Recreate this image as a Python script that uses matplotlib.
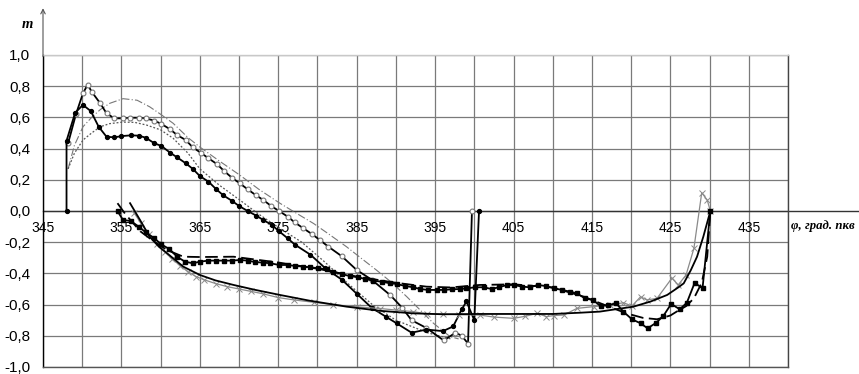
import numpy as np
import matplotlib.pyplot as plt

# -----------------------------
# Data
# -----------------------------

x_labels = [345, 355, 365, 375, 385, 395, 405, 415, 425, 435]
y_ticks = [-1.0, -0.8, -0.6, -0.4, -0.2, 0.0, 0.2, 0.4, 0.6, 0.8, 1.0]

# upper group: solid with filled dots
dots_x = [348.0, 348.0, 349.1, 350.1, 351.1, 352.1, 353.1, 354.1, 355.0, 356.2, 357.2, 358.1,
          359.2, 360.1, 361.2, 362.1, 363.2, 364.1, 365.0, 366.1, 367.1, 368.0, 369.1, 370.0,
          371.1, 372.2, 373.1, 374.2, 375.1, 376.2, 377.1, 379.1, 381.0, 383.1, 385.0, 386.9,
          388.8, 390.1, 392.0, 393.9, 396.0, 397.3, 398.4, 399.0, 400.0, 400.6]
dots_y = [0.0, 0.45, 0.63, 0.68, 0.64, 0.54, 0.476, 0.472, 0.48, 0.485, 0.483, 0.47,
          0.434, 0.417, 0.374, 0.344, 0.306, 0.27, 0.224, 0.188, 0.139, 0.10, 0.065, 0.032,
          0.0, -0.03, -0.058, -0.09, -0.13, -0.175, -0.215, -0.28, -0.367, -0.44, -0.53, -0.62,
          -0.68, -0.72, -0.78, -0.76, -0.77, -0.74, -0.63, -0.58, -0.70, 0.0]

# upper group: solid with open circles
circ_x = [348.2, 349.2, 350.1, 350.7, 351.2, 352.3, 353.1, 354.1, 355.2, 356.1, 357.2, 358.1,
          359.2, 360.1, 361.2, 362.1, 363.2, 364.1, 365.1, 366.1, 367.2, 368.1, 369.1, 370.1,
          371.1, 372.1, 373.1, 374.1, 375.1, 376.2, 377.1, 378.2, 379.3, 380.3, 381.4, 383.1,
          385.0, 386.9, 389.3, 390.8, 392.0, 393.9, 396.1, 397.6, 398.4, 399.2, 399.7]
circ_y = [0.434, 0.62, 0.755, 0.81, 0.765, 0.69, 0.626, 0.594, 0.594, 0.598, 0.598, 0.594,
          0.579, 0.558, 0.524, 0.487, 0.455, 0.408, 0.374, 0.338, 0.30, 0.256, 0.213, 0.177,
          0.139, 0.103, 0.07, 0.032, 0.0, -0.036, -0.073, -0.111, -0.148, -0.186, -0.229, -0.29,
          -0.378, -0.44, -0.54, -0.62, -0.70, -0.75, -0.83, -0.78, -0.80, -0.85, 0.0]

# upper group: thin dash-dot
dashdot_x = [348.2, 349.0, 350.1, 351.2, 352.3, 353.5, 355.2, 357.0, 358.6, 360.0, 361.6, 363.5,
             365.0, 367.5, 370.1, 372.5, 375.2, 377.5, 379.5, 381.5, 383.7, 385.5, 387.5, 389.5,
             391.4, 393.0, 394.8, 396.9, 398.0]
dashdot_y = [0.27, 0.42, 0.54, 0.60, 0.65, 0.69, 0.72, 0.71, 0.668, 0.62, 0.562, 0.47,
             0.41, 0.32, 0.23, 0.14, 0.05, -0.02, -0.08, -0.15, -0.229, -0.30, -0.378, -0.46,
             -0.55, -0.63, -0.72, -0.805, -0.82]

# upper group: thin dotted
dotted_x = [348.2, 349.0, 350.1, 351.2, 352.3, 353.5, 355.2, 356.7, 358.2, 360.0, 361.6, 363.5,
            365.0, 367.5, 370.1, 372.5, 375.2, 378.0, 381.0, 384.0, 387.0, 390.0, 394.0, 397.0]
dotted_y = [0.27, 0.37, 0.455, 0.50, 0.54, 0.56, 0.57, 0.568, 0.551, 0.52, 0.466, 0.37,
            0.27, 0.165, 0.07, -0.02, -0.111, -0.20, -0.33, -0.47, -0.60, -0.70, -0.78, -0.82]

# lower group: solid with filled squares
sq_x = [354.5, 355.2, 356.2, 357.2, 358.1, 359.1, 360.1, 361.1, 362.1, 363.1, 364.1, 365.0,
        366.1, 367.1, 368.1, 369.1, 370.1, 371.1, 372.0, 373.1, 374.0, 375.1, 376.2, 377.1,
        378.1, 379.1, 380.1, 381.2, 382.0, 383.1, 384.1, 385.2, 386.1, 387.1, 388.2, 389.3,
        390.1, 391.2, 392.2, 393.1, 394.1, 395.2, 396.1, 397.1, 398.2, 399.0, 400.1, 401.2,
        402.2, 403.1, 404.2, 405.0, 406.1, 407.1, 408.1, 409.1, 410.2, 411.2, 412.2, 413.1,
        414.1, 415.1, 416.1, 417.1, 418.1, 419.0, 420.1, 421.2, 422.1, 423.2, 424.1, 425.1,
        426.2, 427.1, 428.1, 429.1, 430.1]
sq_y = [0.0, -0.058, -0.064, -0.10, -0.137, -0.171, -0.214, -0.244, -0.293, -0.325, -0.335, -0.325,
        -0.318, -0.318, -0.318, -0.318, -0.314, -0.318, -0.327, -0.331, -0.335, -0.346, -0.346, -0.352,
        -0.356, -0.361, -0.367, -0.374, -0.389, -0.404, -0.417, -0.425, -0.436, -0.447, -0.453, -0.464,
        -0.468, -0.481, -0.489, -0.50, -0.506, -0.506, -0.506, -0.502, -0.50, -0.496, -0.489, -0.489,
        -0.50, -0.489, -0.474, -0.474, -0.485, -0.489, -0.474, -0.481, -0.496, -0.506, -0.517, -0.528,
        -0.56, -0.57, -0.609, -0.603, -0.592, -0.645, -0.694, -0.72, -0.752, -0.716, -0.673, -0.596,
        -0.63, -0.588, -0.46, -0.496, 0.0]

# lower group: black dashed
dash_x = [354.5, 355.5, 357.4, 359.0, 360.8, 362.9, 365.0, 369.3, 375.0, 380.0, 385.0, 390.0,
          393.9, 397.0, 400.7, 405.0, 410.0, 414.0, 417.0, 419.4, 421.5, 423.3, 425.0, 425.8,
          427.0, 428.0, 429.0, 429.7, 430.1]
dash_y = [0.05, -0.02, -0.13, -0.19, -0.25, -0.293, -0.295, -0.293, -0.33, -0.37, -0.42, -0.46,
          -0.485, -0.49, -0.474, -0.47, -0.49, -0.55, -0.61, -0.656, -0.685, -0.694, -0.67, -0.645,
          -0.61, -0.56, -0.46, -0.293, 0.0]

# lower group: smooth black solid
smooth_x = [356.1, 357.4, 358.6, 359.8, 360.8, 362.0, 362.9, 365.0, 367.0, 369.3, 372.0, 375.2,
            379.0, 383.7, 388.0, 392.2, 396.0, 400.7, 405.0, 410.0, 413.5, 416.0, 418.0, 420.3,
            422.5, 424.6, 426.0, 426.7, 427.6, 428.4, 429.2, 430.1]
smooth_y = [0.05, -0.06, -0.165, -0.23, -0.27, -0.32, -0.357, -0.41, -0.445, -0.474, -0.505, -0.538,
            -0.575, -0.613, -0.64, -0.656, -0.662, -0.66, -0.66, -0.66, -0.652, -0.645, -0.63, -0.613,
            -0.58, -0.538, -0.49, -0.464, -0.38, -0.293, -0.165, 0.0]

# lower group: gray with x markers
cross_x = [356.6, 357.5, 358.5, 359.5, 360.5, 361.5, 362.5, 363.5, 364.5, 365.5, 367.0, 368.5,
           370.0, 371.5, 373.0, 375.0, 377.0, 379.5, 382.0, 385.0, 388.0, 390.0, 392.2, 394.0,
           396.0, 398.0, 400.7, 402.5, 405.0, 406.5, 408.0, 409.2, 410.2, 411.4, 413.1, 415.2,
           417.3, 419.0, 420.1, 421.2, 422.0, 423.3, 425.2, 426.0, 427.0, 428.0, 429.0, 429.7, 430.1]
cross_y = [-0.01, -0.08, -0.15, -0.21, -0.26, -0.31, -0.35, -0.39, -0.42, -0.44, -0.465, -0.485,
           -0.50, -0.515, -0.53, -0.555, -0.57, -0.585, -0.60, -0.615, -0.625, -0.635, -0.645, -0.66,
           -0.66, -0.665, -0.667, -0.68, -0.688, -0.675, -0.656, -0.677, -0.67, -0.667, -0.624, -0.613,
           -0.603, -0.588, -0.609, -0.55, -0.57, -0.56, -0.43, -0.474, -0.41, -0.24, 0.117, 0.07, 0.0]

# -----------------------------
# Figure
# -----------------------------

W, H = 859, 374
fig = plt.figure(figsize=(W / 100, H / 100), dpi=100)
ax = fig.add_axes([43 / W, 1 - 367 / H, (788 - 43) / W, (367 - 55) / H])
ax.set_xlim(345, 440)
ax.set_ylim(-1, 1)

ax.set_xticks(np.arange(345, 441, 5))
ax.set_yticks(y_ticks)
ax.set_yticklabels([f"{v:.1f}".replace(".", ",") for v in y_ticks],
                   fontsize=11, family="Liberation Sans")
ax.tick_params(length=0, labelbottom=False, pad=9)
ax.grid(True, color="#7a7a7a", lw=0.9)
ax.set_axisbelow(True)

for side, col in [("left", "black"), ("top", "#c8c8c8"), ("right", "#444444"), ("bottom", "#555555")]:
    ax.spines[side].set_color(col)
    ax.spines[side].set_linewidth(1.0)

# x axis through zero, running past the plot
ax.plot([0, 1.1], [0, 0], transform=ax.get_yaxis_transform(), color="#333333",
        lw=1.0, clip_on=False, zorder=1.5)
# y axis arrow
ax.annotate("", xy=(345, 1.3), xytext=(345, 0.99), annotation_clip=False,
            arrowprops=dict(arrowstyle="->", lw=0.8, color="#555555",
                            mutation_scale=8, shrinkA=0, shrinkB=0))

for v in x_labels:
    ax.annotate(str(v), (v, 0), xytext=(0, -12), textcoords="offset points",
                ha="center", va="center", fontsize=10, family="Liberation Sans")

fig.text(27 / W, 1 - 25 / H, "m", fontsize=10.5, family="Liberation Serif",
         style="italic", weight="bold", ha="center", va="center")
fig.text(791 / W, 1 - 226 / H, "φ, град. пкв", fontsize=9.2, family="Liberation Serif",
         style="italic", weight="bold", ha="left", va="center")

# -----------------------------
# Curves
# -----------------------------

ax.plot(dashdot_x, dashdot_y, color="#777777", lw=0.8, ls=(0, (7, 2, 1, 2)))
ax.plot(dotted_x, dotted_y, color="#555555", lw=0.9, ls=(0, (1.5, 1.5)))
ax.plot(circ_x, circ_y, color="black", lw=1.3, marker="o", ms=3.5,
        mfc="white", mec="#777777", mew=0.8)
ax.plot(dots_x, dots_y, color="black", lw=1.3, marker="o", ms=2.8,
        mfc="black", mec="black")

ax.plot(cross_x, cross_y, color="#8a8a8a", lw=0.9, marker="x", ms=4, mew=0.7)
ax.plot(smooth_x, smooth_y, color="black", lw=1.3)
ax.plot(dash_x, dash_y, color="black", lw=1.3, ls=(0, (7, 3)))
ax.plot(sq_x, sq_y, color="black", lw=1.3, marker="s", ms=3.5)

plt.savefig("out.png", dpi=100)
plt.close()
